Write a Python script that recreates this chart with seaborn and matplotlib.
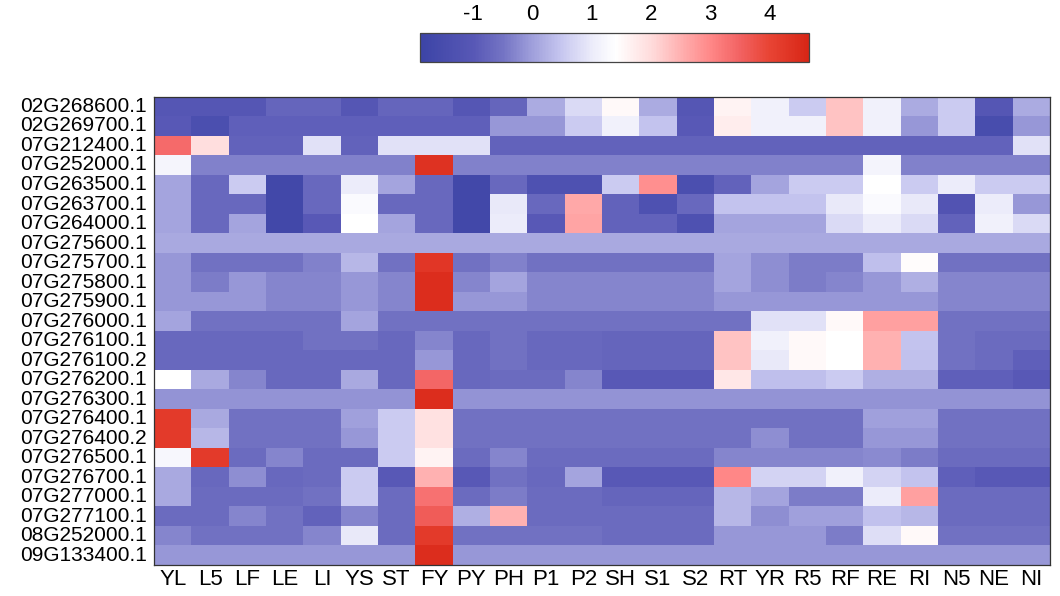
import numpy as np
import pandas as pd
import matplotlib
matplotlib.use("Agg")
import matplotlib.pyplot as plt
from matplotlib.colors import LinearSegmentedColormap
import seaborn as sns

genes = ["02G268600.1", "02G269700.1", "07G212400.1", "07G252000.1", "07G263500.1",
         "07G263700.1", "07G264000.1", "07G275600.1", "07G275700.1", "07G275800.1",
         "07G275900.1", "07G276000.1", "07G276100.1", "07G276100.2", "07G276200.1",
         "07G276300.1", "07G276400.1", "07G276400.2", "07G276500.1", "07G276700.1",
         "07G277000.1", "07G277100.1", "08G252000.1", "09G133400.1"]

tissues = ["YL", "L5", "LF", "LE", "LI", "YS", "ST", "FY", "PY", "PH", "P1", "P2",
           "SH", "S1", "S2", "RT", "YR", "R5", "RF", "RE", "RI", "N5", "NE", "NI"]

values = [
    [-1.1, -1.1, -1.1, -0.75, -0.75, -1.1, -0.75, -0.75, -1.1, -0.75, 0.15, 0.75,
     1.5, 0.15, -1.1, 1.6, 1.1, 0.55, 2.3, 1.1, 0.15, 0.55, -1.1, 0.15],
    [-1.0, -1.4, -0.85, -0.85, -0.85, -0.85, -0.85, -0.85, -0.85, -0.1, -0.1, 0.55,
     1.1, 0.45, -1.0, 1.7, 1.1, 1.1, 2.3, 1.1, -0.1, 0.55, -1.5, -0.1],
    [3.4, 1.95, -0.8, -0.8, 0.85, -0.8, 0.85, 0.85, 0.85, -0.8, -0.8, -0.8,
     -0.8, -0.8, -0.8, -0.8, -0.8, -0.8, -0.8, -0.8, -0.8, -0.8, -0.8, 0.85],
    [1.2, -0.35, -0.35, -0.35, -0.35, -0.35, -0.35, 4.4, -0.35, -0.35, -0.35, -0.35,
     -0.35, -0.35, -0.35, -0.35, -0.35, -0.35, -0.35, 1.15, -0.35, -0.35, -0.35, -0.35],
    [0.05, -0.7, 0.55, -1.7, -0.7, 1.0, 0.05, -0.7, -1.7, -0.7, -1.3, -1.3,
     0.55, 2.9, -1.4, -0.8, 0.05, 0.55, 0.55, 1.4, 0.55, 1.0, 0.55, 0.55],
    [0.05, -0.7, -0.7, -1.7, -0.7, 1.3, -0.7, -0.7, -1.7, 0.95, -0.7, 2.6,
     -0.8, -1.3, -0.7, 0.45, 0.45, 0.45, 0.95, 1.3, 0.95, -1.2, 1.0, -0.1],
    [0.05, -0.7, 0.05, -1.7, -1.0, 1.4, 0.05, -0.7, -1.7, 1.0, -1.0, 2.65,
     -0.8, -0.8, -1.3, 0.05, 0.05, 0.05, 0.75, 1.0, 0.75, -0.8, 1.1, 0.75],
    [0.1] * 24,
    [-0.1, -0.55, -0.55, -0.55, -0.35, 0.3, -0.55, 4.3, -0.55, -0.35, -0.55, -0.55,
     -0.55, -0.55, -0.55, 0.05, -0.2, -0.4, -0.4, 0.4, 1.45, -0.55, -0.55, -0.55],
    [-0.1, -0.4, -0.1, -0.3, -0.3, -0.1, -0.3, 4.5, -0.3, 0.05, -0.3, -0.3,
     -0.3, -0.3, -0.3, 0.05, -0.2, -0.4, -0.3, -0.1, 0.2, -0.3, -0.3, -0.3],
    [-0.1, -0.1, -0.1, -0.3, -0.3, -0.1, -0.3, 4.5, -0.1, -0.1, -0.3, -0.3,
     -0.3, -0.3, -0.3, -0.1, -0.1, -0.1, -0.1, -0.1, -0.1, -0.3, -0.3, -0.3],
    [0.05, -0.55, -0.55, -0.55, -0.55, 0.05, -0.55, -0.55, -0.55, -0.55, -0.55, -0.55,
     -0.55, -0.55, -0.55, -0.55, 0.85, 0.85, 1.5, 2.7, 2.7, -0.55, -0.55, -0.55],
    [-0.7, -0.7, -0.7, -0.7, -0.55, -0.55, -0.7, -0.3, -0.7, -0.55, -0.7, -0.7,
     -0.75, -0.75, -0.75, 2.3, 1.1, 1.5, 1.4, 2.5, 0.45, -0.55, -0.65, -0.65],
    [-0.7, -0.7, -0.7, -0.7, -0.7, -0.7, -0.7, -0.1, -0.7, -0.55, -0.7, -0.7,
     -0.75, -0.75, -0.75, 2.3, 0.95, 1.5, 1.4, 2.5, 0.42, -0.55, -0.65, -0.85],
    [1.4, 0.12, -0.3, -0.7, -0.7, 0.12, -0.7, 3.45, -0.7, -0.65, -0.65, -0.3,
     -1.0, -1.0, -1.0, 1.8, 0.4, 0.4, 0.55, 0.2, 0.2, -0.85, -0.85, -1.0],
    [-0.15, -0.15, -0.15, -0.15, -0.15, -0.15, -0.15, 4.5, -0.15, -0.15, -0.15, -0.15,
     -0.15, -0.15, -0.15, -0.15, -0.15, -0.15, -0.15, -0.15, -0.15, -0.15, -0.15, -0.15],
    [4.2, 0.1, -0.55, -0.55, -0.55, 0.0, 0.55, 1.9, -0.55, -0.55, -0.55, -0.55,
     -0.55, -0.55, -0.55, -0.55, -0.55, -0.55, -0.55, 0.0, 0.0, -0.55, -0.55, -0.55],
    [4.2, 0.3, -0.55, -0.55, -0.55, -0.1, 0.55, 1.9, -0.55, -0.55, -0.55, -0.55,
     -0.55, -0.55, -0.55, -0.55, -0.2, -0.55, -0.55, -0.1, -0.1, -0.55, -0.55, -0.55],
    [1.25, 4.2, -0.65, -0.3, -0.65, -0.65, 0.55, 1.6, -0.65, -0.3, -0.65, -0.65,
     -0.65, -0.65, -0.65, -0.3, -0.3, -0.3, -0.3, -0.25, -0.4, -0.65, -0.65, -0.65],
    [0.12, -0.7, -0.2, -0.7, -0.65, 0.55, -1.0, 2.5, -1.0, -0.55, -0.7, 0.05,
     -1.0, -1.0, -1.0, 3.0, 0.65, 0.65, 1.1, 0.65, 0.45, -0.85, -1.0, -1.0],
    [0.12, -0.65, -0.65, -0.65, -0.55, 0.55, -0.65, 3.3, -0.65, -0.4, -0.65, -0.65,
     -0.75, -0.75, -0.75, 0.3, 0.05, -0.4, -0.4, 1.0, 2.7, -0.65, -0.65, -0.65],
    [-0.65, -0.65, -0.3, -0.55, -0.8, -0.3, -0.65, 3.6, 0.2, 2.5, -0.65, -0.65,
     -0.65, -0.65, -0.65, 0.3, -0.2, 0.0, 0.0, 0.42, 0.3, -0.65, -0.65, -0.65],
    [-0.3, -0.55, -0.55, -0.55, -0.3, 0.95, -0.65, 4.2, -0.55, -0.55, -0.55, -0.55,
     -0.65, -0.65, -0.65, -0.1, -0.1, -0.1, -0.4, 0.8, 1.5, -0.55, -0.55, -0.55],
    [-0.1, -0.1, -0.1, -0.1, -0.1, -0.1, -0.1, 4.5, -0.1, -0.1, -0.1, -0.1,
     -0.1, -0.1, -0.1, -0.1, -0.1, -0.1, -0.1, -0.1, -0.1, -0.1, -0.1, -0.1],
]

cbar_ticks = [-1, 0, 1, 2, 3, 4]
vmin, vmax = -1.9, 4.66

sns.set_style("white")
plt.rcParams['font.family'] = ['Liberation Sans', 'DejaVu Sans']
plt.rcParams['axes.unicode_minus'] = False
plt.rcParams['text.color'] = 'black'
plt.rcParams['xtick.color'] = 'black'
plt.rcParams['ytick.color'] = 'black'

nodes = [(-1.9, "#3c44a6"), (-1.0, "#5858b6"), (-0.5, "#7474c4"), (0.0, "#a0a0dc"),
         (0.5, "#c8c8f0"), (1.0, "#ececfa"), (1.4, "#ffffff"), (2.0, "#ffdcdc"),
         (2.6, "#ffa8a8"), (3.0, "#ff8888"), (3.5, "#f26262"), (4.0, "#e84434"),
         (4.66, "#d82616")]
cmap = LinearSegmentedColormap.from_list(
    "bwr_custom", [((v - vmin) / (vmax - vmin), c) for v, c in nodes])

df = pd.DataFrame(values, index=genes, columns=tissues)

fig = plt.figure(figsize=(10.6, 5.96), dpi=100)
ax = fig.add_axes([154 / 1060, 1 - 565 / 596, 896 / 1060, (565 - 96.7) / 596])
cax = fig.add_axes([420 / 1060, 1 - 62 / 596, 389 / 1060, 29 / 596])

sns.heatmap(df, ax=ax, cmap=cmap, vmin=vmin, vmax=vmax, cbar_ax=cax,
            cbar_kws={"orientation": "horizontal", "ticks": cbar_ticks},
            linewidths=0, square=False)

for s in ax.spines.values():
    s.set_visible(True)
    s.set_color("#333333")
    s.set_linewidth(0.9)

ax.tick_params(axis="both", direction="in", length=4, width=1, color="#222222",
               labelcolor="black",
               top=True, right=True, bottom=True, left=True,
               labeltop=False, labelright=False)
ax.set_yticklabels(genes, rotation=0, fontsize=15, color="black")
ax.set_xticklabels(tissues, rotation=0, fontsize=16, color="black")
ax.tick_params(axis="x", pad=3)
ax.tick_params(axis="y", pad=5)
ax.set_xlabel("")
ax.set_ylabel("")

cb = ax.collections[0].colorbar
cb.outline.set_edgecolor("#444444")
cb.outline.set_linewidth(0.9)
cax.xaxis.set_ticks_position("both")
cax.tick_params(axis="x", direction="in", length=3, width=1, top=True, bottom=True,
                labeltop=True, labelbottom=False, labelsize=16, labelcolor="black",
                pad=6)

fig.savefig("out.png", dpi=100)
